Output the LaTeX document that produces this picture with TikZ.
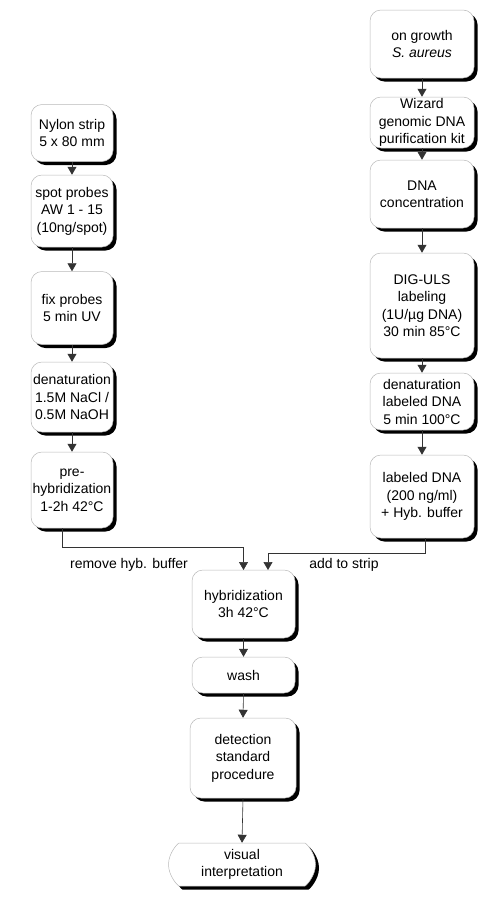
\documentclass[tikz,border=0pt]{standalone}
\usepackage{fontspec}
\setmainfont{Liberation Sans}
\usetikzlibrary{arrows.meta,shadows,shapes.misc}
\begin{document}
\begin{tikzpicture}[x=1pt,y=-1pt,
  box/.style={draw=gray!55, line width=0.5pt, fill=white, rounded corners=11pt,
    drop shadow={shadow xshift=3.5pt,shadow yshift=-3.5pt,opacity=1,fill=black},
    align=center, inner sep=0pt, font=\fontsize{14}{17.5}\selectfont},
  arr/.style={draw=black!80, line width=0.6pt, -{Triangle[width=9pt,length=8pt]}},
  lbl/.style={font=\fontsize{14}{17}\selectfont, inner sep=0pt}]
\useasboundingbox (0,0) rectangle (478,897);
% left column
\node[box, minimum width=82, minimum height=57] (L1) at (72,133) {Nylon strip\\5 x 80 mm};
\node[box, minimum width=82, minimum height=72] (L2) at (72,211) {spot probes\\AW 1 - 15\\(10ng/spot)};
\node[box, minimum width=82, minimum height=73] (L3) at (72,308) {fix probes\\5 min UV};
\node[box, minimum width=82, minimum height=70] (L4) at (72,397) {denaturation\\1.5M NaCl /\\0.5M NaOH};
\node[box, minimum width=82, minimum height=76] (L5) at (72,490) {pre-\\hybridization\\1-2h 42°C};
% right column
\node[box, minimum width=104, minimum height=68] (R1) at (422,44) {on growth\\\textit{S. aureus}};
\node[box, minimum width=104, minimum height=51] (R2) at (422,122.5) {Wizard\\genomic DNA\\purification kit};
\node[box, minimum width=104, minimum height=68] (R3) at (422,194) {DNA\\concentration};
\node[box, minimum width=104, minimum height=105] (R4) at (422,305.5) {DIG-ULS\\labeling\\(1U/µg DNA)\\30 min 85°C};
\node[box, minimum width=104, minimum height=57] (R5) at (422,401.5) {denaturation\\labeled DNA\\5 min 100°C};
\node[box, minimum width=104, minimum height=83] (R6) at (422,496.5) {labeled DNA\\(200 ng/ml)\\+ Hyb. buffer};
% bottom column
\node[box, minimum width=103, minimum height=68] (H) at (243.5,604) {hybridization\\3h 42°C};
\node[box, minimum width=103, minimum height=36] (W) at (243.5,675) {wash};
\node[box, minimum width=106, minimum height=80] (D) at (243,758) {detection\\standard\\procedure};
\node[box, rounded rectangle, minimum width=147, minimum height=43] (V) at (242,864.5) {visual\\interpretation};
% column arrows
\foreach \a/\b in {L1/L2,L2/L3,L3/L4,L4/L5,R1/R2,R2/R3,R3/R4,R4/R5,R5/R6,H/W,W/D,D/V}
  \draw[arr] (\a.south) -- (\b.north);
% merging connectors
\coordinate (lt) at (62,528);
\coordinate (rt) at (425,538);
\coordinate (hl) at (243.5,570);
\coordinate (hr) at (268,570);
\draw[arr] (lt) |- (243.5,547) -- (hl);
\draw[arr] (rt) |- (268,553) -- (hr);
\node[lbl] (t1) at (129,565) {remove hyb. buffer};
\node[lbl] (t2) at (344,565) {add to strip};
\end{tikzpicture}
\end{document}
